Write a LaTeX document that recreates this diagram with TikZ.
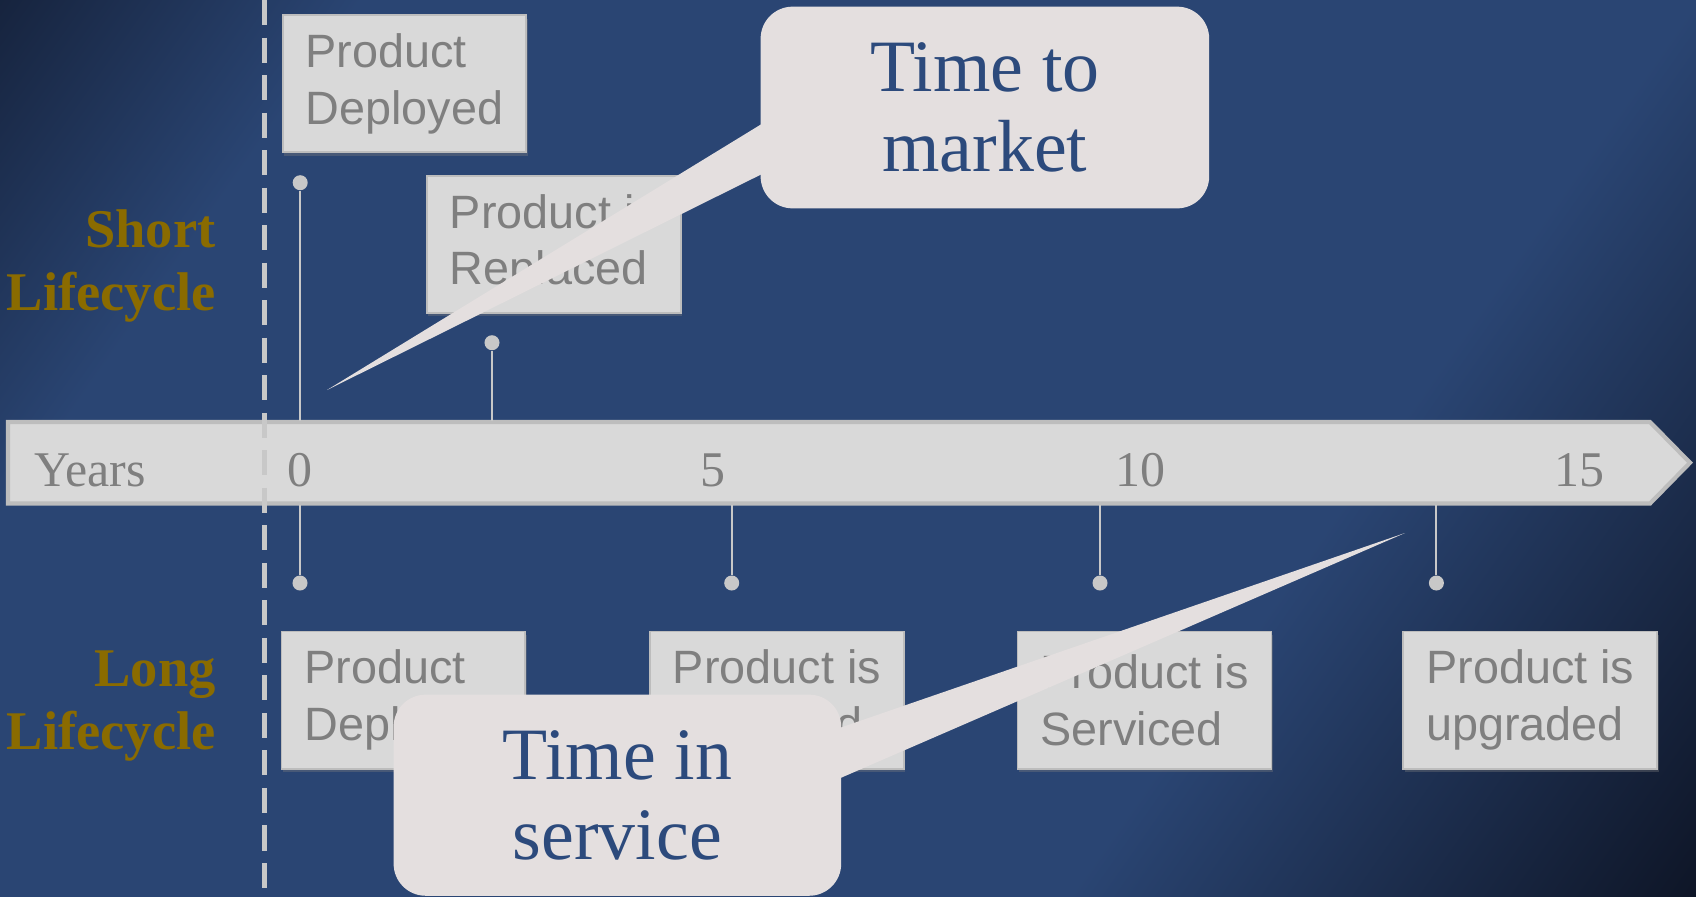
\documentclass[tikz,border=0pt]{standalone}
\usepackage{fontspec}
\setmainfont{Liberation Serif}
\setsansfont{Liberation Sans}
\usetikzlibrary{positioning,shadows}

\definecolor{bgmid}{HTML}{2A4573}
\definecolor{bgdark}{HTML}{16233D}
\definecolor{bgdeep}{HTML}{0E1526}
\definecolor{barfill}{HTML}{D9D9D9}
\definecolor{barline}{HTML}{BDBDBD}
\definecolor{boxtext}{HTML}{7F7F7F}
\definecolor{stemgray}{HTML}{C8C8C8}
\definecolor{callfill}{HTML}{E4DFDF}
\definecolor{callnavy}{HTML}{2C4A7C}
\definecolor{gold}{HTML}{8A6B00}

\pgfdeclarehorizontalshading{bgfade}{100bp}{color(0bp)=(bgdark); color(15bp)=(bgdark); color(26bp)=(bgmid); color(66bp)=(bgmid); color(85bp)=(bgdeep); color(100bp)=(bgdeep)}

\begin{document}
\begin{tikzpicture}[x=0.01cm,y=-0.01cm,
    evtbox/.style={draw=barline,line width=0.5pt,fill=barfill,text=boxtext,
        font=\sffamily\fontsize{13.3}{16.1}\selectfont,align=left,inner xsep=0.23cm,
        minimum height=1.37cm,anchor=north west,execute at begin node={\rule{0pt}{14pt}},
        drop shadow={shadow xshift=0.4pt,shadow yshift=-1pt,opacity=0.35}},
    stemdot/.style={circle,fill=stemgray,inner sep=0pt,minimum size=0.15cm},
    stem/.style={stemgray,line width=0.6pt},
    yearlbl/.style={text=boxtext,font=\fontsize{14.2}{16}\selectfont,inner sep=0pt,anchor=base},
    lifelbl/.style={text=gold,font=\bfseries\fontsize{15.5}{18}\selectfont,align=right,inner sep=0pt,anchor=east},
    callbox/.style={fill=callfill,rounded corners=0.32cm,text=callnavy,
        font=\fontsize{21}{22.8}\selectfont,align=center}]

    % Background
    \shade [shading=bgfade,shading angle=-35] (0,0) rectangle (1696,896);
    \useasboundingbox (0,0) rectangle (1696,896);

    % Timeline bar
    \draw [fill=barfill,draw=barline,line width=1.2pt] (8,422) -- (1650,422) -- (1690,462.7) -- (1650,503.5) -- (8,503.5) -- cycle;
    \coordinate (bartop) at (0,420.7);
    \coordinate (barbot) at (0,504.7);

    % Start marker
    \draw [stemgray,line width=1.7pt,dash pattern=on 0.25cm off 0.125cm] (264.5,0) -- (264.5,896);

    % Year labels
    \node [yearlbl,anchor=base west] (years) at (33.5,486.3) {Years};
    \foreach \yr/\xx in {0/300,5/712.8,10/1140,15/1579}
        \node [yearlbl] (yr\yr) at (\xx,486.3) {\yr};

    % Short lifecycle events
    \node [stemdot] (dtdeploy) at (300.2,182.7) {};
    \node [stemdot] (dtreplace) at (492,342.7) {};
    \draw [stem] (dtdeploy) -- (dtdeploy |- bartop);
    \draw [stem] (dtreplace) -- (dtreplace |- bartop);
    \node [evtbox] (deploytop) at (281.8,14.3) {Product\\Deployed};
    \node [evtbox] (replacetop) at (426,175) {Product is\\Replaced};

    % Long lifecycle events
    \foreach \nm/\xx in {deploy/300,repair/731.7,service/1100,upgrade/1436.4} {
        \node [stemdot] (dl\nm) at (\xx,583) {};
        \draw [stem] (dl\nm) -- (dl\nm |- barbot);
    }
    \node [evtbox] (deploylow) at (280.7,630.7) {Product\\Deployed};
    \node [evtbox] (repairlow) at (649,630.7) {Product is\\Repaired};
    \node [evtbox] (servicelow) at (1016.7,630.7) {Product is\\Serviced};
    \node [evtbox] (upgradelow) at (1402.4,630.7) {Product is\\upgraded};

    % Row labels
    \node [lifelbl] (shortlbl) at (216.3,266) {Short\\Lifecycle};
    \node [lifelbl] (longlbl) at (216.3,705.8) {Long\\Lifecycle};

    % Callout: time to market
    \coordinate (mkttip) at (327,390);
    \node [callbox,minimum width=4.483cm,minimum height=2.016cm] (mkt) at (984.9,107.5) {Time to\\market};
    \fill [callfill] ([xshift=0.393cm,yshift=0.065cm]mkt.west) -- (mkttip) -- ([xshift=0.393cm,yshift=-0.48cm]mkt.west) -- cycle;

    % Callout: time in service
    \coordinate (svctip) at (1405,533);
    \node [callbox,minimum width=4.473cm,minimum height=2.01cm] (svc) at (617.4,795.2) {Time in\\service};
    \fill [callfill] ([xshift=-0.41cm,yshift=0.539cm]svc.east) -- (svctip) -- ([xshift=-0.41cm]svc.east) -- cycle;

\end{tikzpicture}
\end{document}
